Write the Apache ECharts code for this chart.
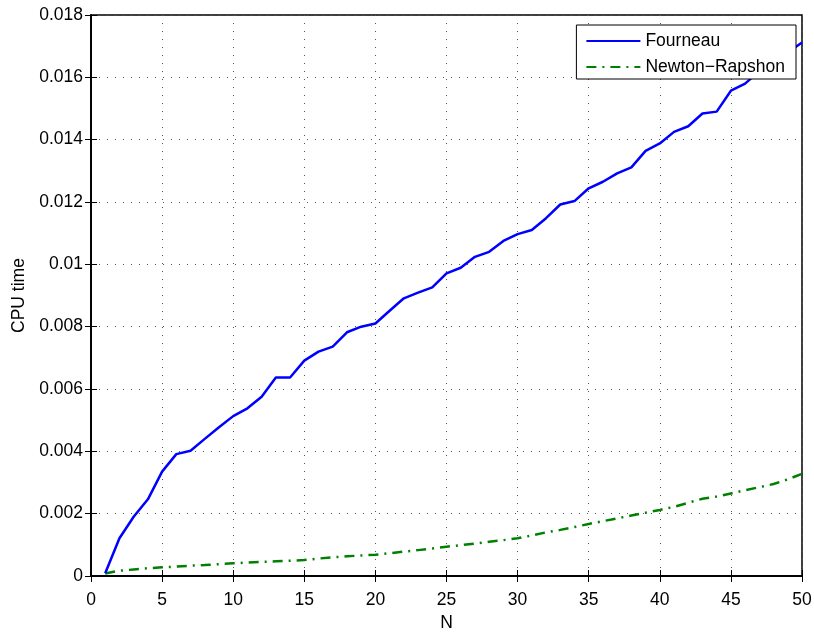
<!DOCTYPE html>
<html>
<head>
<meta charset="utf-8">
<script src="https://cdn.jsdelivr.net/npm/echarts@6/dist/echarts.min.js"></script>
<style>
html,body{margin:0;padding:0;background:#fff;}
#chart{width:814px;height:633px;}
</style>
</head>
<body>
<div id="chart"></div>
<script>
var seriesNames = ['Fourneau', 'Newton\u2212Rapshon'];
var nValues = [];
for (var i = 1; i <= 50; i++) nValues.push(i);
var fourneau = [0.00009,0.00121,0.0019,0.00246,0.00335,0.00391,0.00402,0.0044,0.00477,0.00513,
  0.00538,0.00575,0.00637,0.00637,0.00691,0.0072,0.00736,0.00782,0.008,0.0081,
  0.00851,0.00891,0.00909,0.00926,0.00971,0.00989,0.01024,0.0104,0.01075,0.01097,
  0.0111,0.01148,0.01192,0.01203,0.01244,0.01265,0.01292,0.01311,0.01364,0.01388,
  0.01425,0.01443,0.01484,0.0149,0.01557,0.0158,0.0162,0.0165,0.0168,0.01712];
var newton = [0.00008,0.00017,0.00021,0.00025,0.00028,0.0003,0.00033,0.00035,0.00038,0.00041,
  0.00043,0.00045,0.00047,0.00049,0.00051,0.00056,0.0006,0.00063,0.00066,0.00068,
  0.00073,0.00078,0.00083,0.00088,0.00094,0.00099,0.00104,0.0011,0.00115,0.00121,
  0.0013,0.0014,0.00148,0.00157,0.00167,0.00176,0.00185,0.00194,0.00203,0.00212,
  0.00222,0.00235,0.00248,0.00255,0.00265,0.00275,0.00285,0.00295,0.0031,0.00328];
var xLabel = 'N';
var yLabel = 'CPU time';

function pairs(xs, ys){ return xs.map(function(x,i){ return [x, ys[i]]; }); }

var FONT = '"Liberation Sans", Arial, Helvetica, sans-serif';
var FS = 17.5;
var gridLine = {show:true, lineStyle:{color:'#555', width:1, type:[1,7]}};
var tickIn = {show:true, inside:true, length:6, lineStyle:{color:'#000', width:1}};

var chart = echarts.init(document.getElementById('chart'), null, {renderer:'canvas'});
chart.setOption({
  animation:false,
  backgroundColor:'#fff',
  grid:{left:91, right:12, top:15, bottom:57, show:true, borderColor:'#000', borderWidth:1.5,
    backgroundColor:'transparent', containLabel:false, outerBoundsMode:'none'},
  legend:{
    orient:'vertical', right:18, top:25,
    backgroundColor:'#fff', borderColor:'#000', borderWidth:1,
    padding:[7,11,3,9], itemGap:8, itemWidth:54, itemHeight:14,
    itemStyle:{opacity:0},
    textStyle:{fontFamily:FONT, fontSize:FS, color:'#000'},
    data:[seriesNames[0], seriesNames[1]]
  },
  xAxis:[{
    type:'value', min:0, max:50, interval:5, position:'bottom',
    name:xLabel, nameLocation:'middle', nameGap:36,
    nameTextStyle:{fontFamily:FONT, fontSize:FS, color:'#000'},
    axisLine:{show:true, lineStyle:{color:'#000', width:1.5}},
    axisTick:tickIn,
    axisLabel:{fontFamily:FONT, fontSize:FS, color:'#000', margin:15},
    splitLine:gridLine
  },{
    type:'value', min:0, max:50, interval:5, position:'top',
    axisLine:{show:true, lineStyle:{color:'#000', width:1.5}},
    axisTick:tickIn, axisLabel:{show:false}, splitLine:{show:false}
  }],
  yAxis:[{
    type:'value', min:0, max:0.018, interval:0.002, position:'left',
    name:yLabel, nameLocation:'middle', nameGap:62,
    nameTextStyle:{fontFamily:FONT, fontSize:FS, color:'#000'},
    axisLine:{show:true, lineStyle:{color:'#000', width:1.5}},
    axisTick:tickIn,
    axisLabel:{fontFamily:FONT, fontSize:FS, color:'#000', margin:8,
      formatter:function(v){ return String(parseFloat(v.toFixed(4))); }},
    splitLine:gridLine
  },{
    type:'value', min:0, max:0.018, interval:0.002, position:'right',
    axisLine:{show:true, lineStyle:{color:'#000', width:1.5}},
    axisTick:tickIn, axisLabel:{show:false}, splitLine:{show:false}
  }],
  series:[{
    name:seriesNames[0], type:'line', data:pairs(nValues, fourneau),
    symbol:'none', showSymbol:false,
    lineStyle:{color:'#0000ff', width:2.5, type:'solid'},
    itemStyle:{color:'#0000ff'}, z:3
  },{
    name:seriesNames[1], type:'line', data:pairs(nValues, newton),
    symbol:'none', showSymbol:false,
    lineStyle:{color:'#008000', width:2.5, type:[10,6,2,6]},
    itemStyle:{color:'#008000'}, z:2
  }]
});
</script>
</body>
</html>
